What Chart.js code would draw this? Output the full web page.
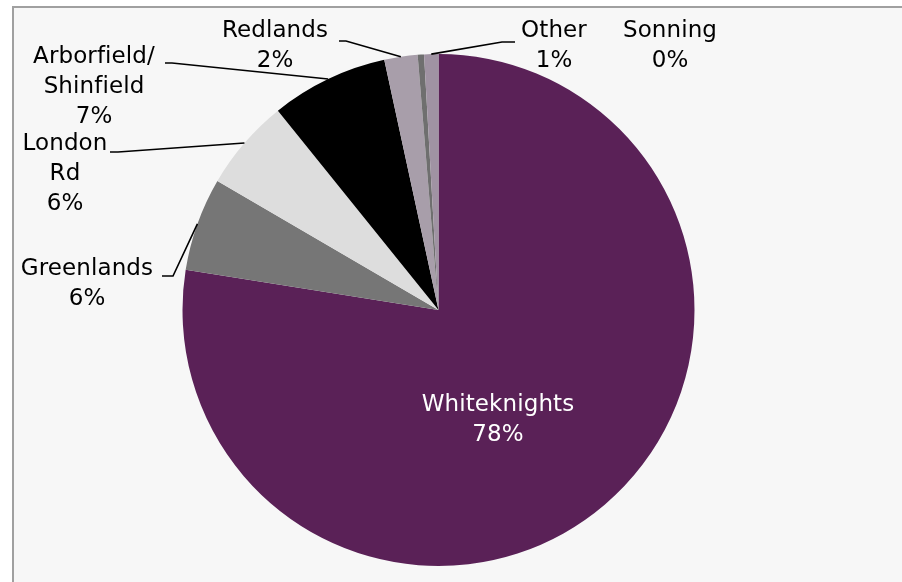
<html>
<head>
    <title>Campus split</title>
    <script src="https://cdn.jsdelivr.net/npm/chart.js"></script>
</head>
<style>
    html, body{
        margin: 0;
        overflow: hidden;
        background: #fff;
    }
    #frame{
        position: absolute;
        left: 12px;
        top: 6px;
        width: 1000px;
        height: 700px;
        border-left: 2px solid #a0a0a0;
        border-top: 2px solid #a0a0a0;
        background: #f7f7f7;
    }
    #pie{
        position: absolute;
        left: 0;
        top: 0;
    }
</style>
<body>
<div id="frame"></div>
<canvas id="pie" width="902" height="582"></canvas>

<script>
// data (share of total, clockwise from 12 o'clock)
const categories = ['Whiteknights', 'Greenlands', 'London Rd', 'Arborfield/Shinfield', 'Redlands', 'Sonning', 'Other'];
const shares = [77.55, 5.9, 5.8, 7.4, 2.1, 0.4, 0.9];
const sliceColors = ['#5a2157', '#767676', '#dddddd', '#000000', '#a89eaa', '#6f6f6f', '#a093a3'];

// where each data label sits (text lines, centre x, first baseline y, leader elbow)
const labelSpots = [
    { text: ['Whiteknights'], x: 498, y: 411, color: '#fff' },
    { text: ['Greenlands'], x: 87, y: 275, leader: [[162, 276], [173, 276]] },
    { text: ['London', 'Rd'], x: 65, y: 150, leader: [[110, 152], [118, 152]] },
    { text: ['Arborfield/', 'Shinfield'], x: 94, y: 63, leader: [[165, 63], [172, 63]] },
    { text: ['Redlands'], x: 275, y: 37, leader: [[339, 41], [346, 41]] },
    { text: ['Sonning'], x: 670, y: 37 },
    { text: ['Other'], x: 554, y: 37, leader: [[515, 42], [502, 42]] }
];

const calloutPlugin = {
    id: 'callouts',
    afterDatasetsDraw(chart) {
        const ctx = chart.ctx;
        const arcs = chart.getDatasetMeta(0).data;
        const total = shares.reduce((a, b) => a + b, 0);
        ctx.save();
        ctx.font = '23px "DejaVu Sans"';
        ctx.letterSpacing = '0.1px'; // keeps "fi" as two letters
        ctx.textAlign = 'center';
        ctx.textBaseline = 'alphabetic';
        labelSpots.forEach((spot, i) => {
            const lines = spot.text.concat(Math.round(shares[i] / total * 100) + '%');
            ctx.fillStyle = spot.color || '#000';
            lines.forEach((t, k) => ctx.fillText(t, spot.x, spot.y + k * 30));
            if (spot.leader) {
                // leader ends on the rim at the middle of the slice
                const a = arcs[i];
                const mid = (a.startAngle + a.endAngle) / 2;
                const ex = a.x + Math.cos(mid) * a.outerRadius;
                const ey = a.y + Math.sin(mid) * a.outerRadius;
                ctx.beginPath();
                ctx.moveTo(spot.leader[0][0], spot.leader[0][1]);
                for (let k = 1; k < spot.leader.length; k++) {
                    ctx.lineTo(spot.leader[k][0], spot.leader[k][1]);
                }
                ctx.lineTo(ex, ey);
                ctx.strokeStyle = '#000';
                ctx.lineWidth = 1.6;
                ctx.stroke();
            }
        });
        ctx.restore();
    }
};

new Chart(document.getElementById('pie'), {
    type: 'pie',
    data: {
        labels: categories,
        datasets: [{
            data: shares,
            backgroundColor: sliceColors,
            borderWidth: 0,
            hoverOffset: 0,
            offset: 0
        }]
    },
    options: {
        responsive: false,
        animation: false,
        devicePixelRatio: 1,
        events: [],
        layout: {
            padding: { left: 182.5, right: 207.5, top: 54, bottom: 16 }
        },
        plugins: {
            legend: { display: false },
            tooltip: { enabled: false }
        }
    },
    plugins: [calloutPlugin]
});
</script>
</html>
